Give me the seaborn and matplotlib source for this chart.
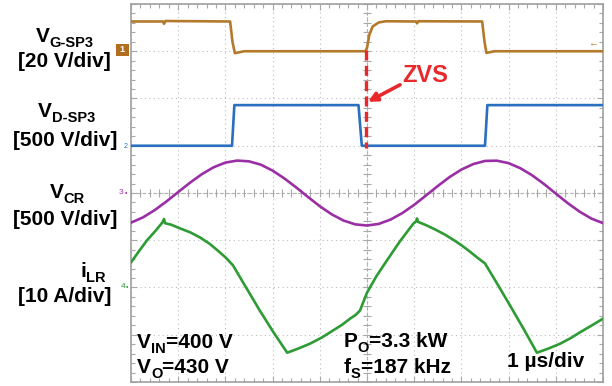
import numpy as np
import pandas as pd
import matplotlib
matplotlib.use("Agg")
import matplotlib.pyplot as plt
import seaborn as sns
from matplotlib.ticker import MultipleLocator
from matplotlib.patches import Rectangle

# ---------------- data ----------------
# time axis: µs (1 µs/div, 10 divisions)
gate_t = [0.00, 0.68, 0.70, 0.73, 2.10, 2.15, 2.20, 2.40, 4.97, 5.00, 5.05, 5.12, 5.25, 5.40,
          6.04, 6.06, 6.09, 7.44, 7.49, 7.53, 7.70, 10.0]
gate_v = [12.6, 12.6, 11.6, 12.8, 12.6, 4.0, -0.8, 0.0, 0.0, 1.5, 7.0, 10.5, 12.2, 12.7,
          12.6, 11.8, 12.7, 12.6, 4.0, -0.7, 0.0, 0.0]          # V (20 V/div)

drain_t = [0.00, 2.14, 2.19, 4.82, 4.89, 7.50, 7.55, 10.0]
drain_v = [0, 0, 430, 430, 0, 0, 430, 430]                        # V (500 V/div)

vcr_t = [0.00, 0.25, 0.50, 0.75, 1.00, 1.25, 1.50, 1.75, 2.00, 2.25, 2.50, 2.75, 3.00, 3.25,
         3.50, 3.75, 4.00, 4.25, 4.50, 4.75, 5.00, 5.25, 5.50, 5.75, 6.00, 6.25, 6.50, 6.75,
         7.00, 7.25, 7.50, 7.75, 8.00, 8.25, 8.50, 8.75, 9.00, 9.25, 9.50, 9.75, 10.0]
vcr_v = [-314, -259, -182, -90, 10, 109, 199, 272, 322, 343, 335, 300, 237, 154,
         59, -42, -140, -225, -291, -332, -344, -327, -281, -212, -125, -26, 74, 169,
         248, 306, 339, 342, 316, 262, 187, 95, -6, -106, -196, -270, -319]   # V (500 V/div)

ilr_t = [0.00, 0.17, 0.34, 0.52, 0.66, 0.70, 0.72, 0.85, 1.04, 1.25, 1.46, 1.66, 1.84, 2.00,
         2.16, 2.45, 2.73, 3.02, 3.31, 3.55, 3.79, 4.04, 4.28, 4.47, 4.64, 4.76, 4.85, 5.00,
         5.20, 5.42, 5.70, 5.98, 6.04, 6.06, 6.08, 6.25, 6.44, 6.65, 6.86, 7.02, 7.18, 7.34,
         7.50, 7.77, 8.03, 8.32, 8.60, 8.85, 9.09, 9.30, 9.51, 9.75, 10.0]
ilr_a = [5.3, 7.7, 10.0, 12.0, 13.7, 14.5, 13.6, 13.3, 12.5, 11.7, 10.6, 9.3, 7.8, 6.4,
         4.7, -0.2, -4.9, -9.5, -13.8, -12.9, -11.9, -10.6, -9.1, -7.9, -6.6, -5.8, -4.9, -1.1,
         2.4, 5.7, 9.8, 13.5, 14.0, 14.6, 13.9, 13.2, 12.3, 11.2, 9.9, 8.8, 7.6, 6.3,
         5.1, 0.6, -3.8, -8.8, -13.8, -12.9, -11.9, -10.8, -9.5, -8.1, -6.6]   # A (10 A/div)

# channel settings: (volts per div, ground offset in div)
GATE_SCALE, GATE_POS = 20.0, 3.0
DRAIN_SCALE, DRAIN_POS = 500.0, 1.0
VCR_SCALE, VCR_POS = 500.0, 0.0
ILR_SCALE, ILR_POS = 10.0, -2.0

C_GATE = "#b47a2c"
C_DRAIN = "#2a6fc0"
C_VCR = "#9a2fa5"
C_ILR = "#2e9b35"
C_RED = "#e8282a"

# ---------------- figure ----------------
sns.set_style("white")
plt.rcParams["font.family"] = ["Liberation Sans", "DejaVu Sans"]

W, H = 612, 386
fig = plt.figure(figsize=(W / 100, H / 100), dpi=100)
fig.patch.set_facecolor("white")
ax = fig.add_axes([131 / W, 1 - 382 / H, 472 / W, 378 / H])

traces = [
    (gate_t, GATE_POS + np.array(gate_v) / GATE_SCALE, C_GATE),
    (drain_t, DRAIN_POS + np.array(drain_v) / DRAIN_SCALE, C_DRAIN),
    (vcr_t, VCR_POS + np.array(vcr_v) / VCR_SCALE, C_VCR),
    (ilr_t, ILR_POS + np.array(ilr_a) / ILR_SCALE, C_ILR),
]

# scope graticule
ax.set_xlim(0, 10)
ax.set_ylim(-4, 4)
ax.xaxis.set_major_locator(MultipleLocator(1))
ax.yaxis.set_major_locator(MultipleLocator(1))
ax.xaxis.set_minor_locator(MultipleLocator(0.2))
ax.yaxis.set_minor_locator(MultipleLocator(0.2))
ax.tick_params(which="both", direction="in", top=True, right=True, bottom=True, left=True,
               labelbottom=False, labelleft=False, color="#a8a8a8", width=0.8)
ax.tick_params(which="major", length=4)
ax.tick_params(which="minor", length=3)
ax.grid(which="major", ls=(0, (1, 3)), color="#bdbdbd", lw=0.8)
ax.axhline(0, color="#b0b0b0", lw=0.8, ls=(0, (3, 2)), zorder=1)
ax.axvline(5, color="#b0b0b0", lw=0.8, ls=(0, (3, 2)), zorder=1)
cx = np.arange(0, 10.001, 0.2)
cy = np.arange(-4, 4.001, 0.2)
ax.plot(cx, np.zeros_like(cx), ls="none", marker="|", ms=6, mew=0.8, color="#a8a8a8", zorder=1)
ax.plot(np.full_like(cy, 5.0), cy, ls="none", marker="_", ms=6, mew=0.8, color="#a8a8a8", zorder=1)
for s in ax.spines.values():
    s.set_color("#a0a0a0")
    s.set_linewidth(1.2)

for t, y, c in traces:
    sns.lineplot(x=t, y=y, ax=ax, color=c, lw=1.9, sort=False, estimator=None, legend=False, zorder=3)
ax.set_xlabel("")
ax.set_ylabel("")

# ZVS marker: dashed line + arrow
zx = (366 - 131) / 47.2
ax.plot([zx, zx], [(193 - 50) / 47.25, (193 - 148) / 47.25], color=C_RED, lw=2.4,
        ls=(0, (3, 1.6)), zorder=4)
ax.annotate("", xy=(5.02, 1.93), xytext=(5.70, 2.29),
            arrowprops=dict(arrowstyle="-|>", color=C_RED, lw=2.6, mutation_scale=13,
                            shrinkA=0, shrinkB=0), zorder=5)
fig.text(402 / W, 1 - 82 / H, "ZVS", color=C_RED, fontsize=17, fontweight="bold", va="baseline")

# ---------------- rich text helper ----------------
renderer = fig.canvas.get_renderer()


def rich(x_px, base_px, parts, size=15, color="black", sub_scale=0.7, drop=0.22):
    cur = x_px
    for s, is_sub in parts:
        fs = size * sub_scale if is_sub else size
        dy = drop * size * 100 / 72 if is_sub else 0.0
        t = fig.text(0, 0, s, fontsize=fs, fontweight="bold", color=color,
                     va="baseline", ha="left")
        t.set_position((cur / W, 1 - (base_px + dy) / H))
        w = t.get_window_extent(renderer).width
        cur += w


# left-hand channel labels
rich(36, 42, [("V", False), ("G-SP3", True)])
rich(18, 67, [("[20 V/div]", False)])
rich(38, 117, [("V", False), ("D-SP3", True)])
rich(13, 146, [("[500 V/div]", False)])
rich(50, 198, [("V", False), ("CR", True)])
rich(13, 225, [("[500 V/div]", False)])
rich(80, 277, [("i", False), ("LR", True)])
rich(18, 302, [("[10 A/div]", False)])

# operating-point text inside the screen
rich(137, 348, [("V", False), ("IN", True), ("=400 V", False)])
rich(137, 373, [("V", False), ("O", True), ("=430 V", False)])
rich(344, 347, [("P", False), ("O", True), ("=3.3 kW", False)])
rich(344, 373, [("f", False), ("S", True), ("=187 kHz", False)])
rich(507, 367, [("1 µs/div", False)])

# channel ground markers
fig.patches.append(Rectangle((116 / W, 1 - 56 / H), 13 / W, 12 / H, transform=fig.transFigure,
                             facecolor="#b06e1e", edgecolor="none"))
fig.text(119 / W, 1 - 50 / H, "1", color="white", fontsize=6.5, fontweight="bold", va="center")
fig.text(124 / W, 1 - 146 / H, "2", color=C_DRAIN, fontsize=5, va="center")
fig.text(119 / W, 1 - 193 / H, "3", color=C_VCR, fontsize=6, va="center")
fig.text(125 / W, 1 - 193 / H, "•", color=C_VCR, fontsize=5, va="center")
fig.text(121 / W, 1 - 287 / H, "4", color=C_ILR, fontsize=6, va="center")
fig.text(126 / W, 1 - 287 / H, "•", color=C_ILR, fontsize=5, va="center")
fig.text(588 / W, 1 - 43 / H, "←", color=C_GATE, fontsize=7, va="center")

fig.savefig("out.png", dpi=100, facecolor="white")
